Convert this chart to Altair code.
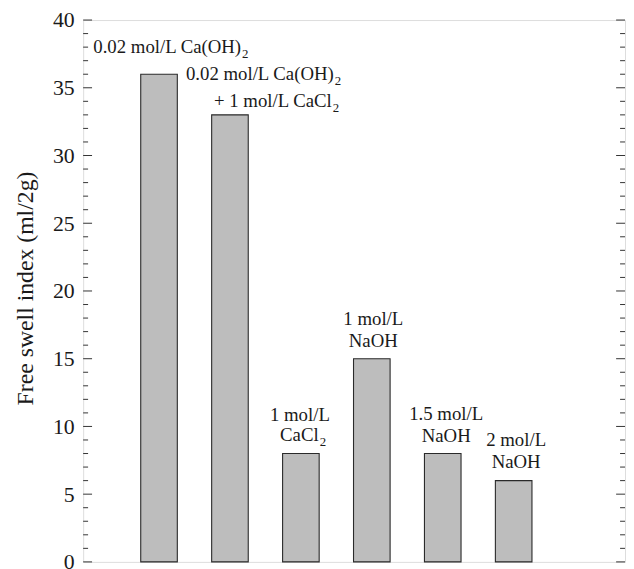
import altair as alt
import pandas as pd

# ---- data ----
bar_pos = [1, 2, 3, 4, 5, 6]
bar_name = ["0.02 mol/L Ca(OH)2", "0.02 mol/L Ca(OH)2 + 1 mol/L CaCl2", "1 mol/L CaCl2",
            "1 mol/L NaOH", "1.5 mol/L NaOH", "2 mol/L NaOH"]
swell = [36, 33, 8, 15, 8, 6]

major_ticks = [0, 5, 10, 15, 20, 25, 30, 35, 40]
minor_ticks = [1, 2, 3, 4, 6, 7, 8, 9, 11, 12, 13, 14, 16, 17, 18, 19,
               21, 22, 23, 24, 26, 27, 28, 29, 31, 32, 33, 34, 36, 37, 38, 39]

# label lines: text, bar index, subscript
label_text = ["0.02 mol/L Ca(OH)", "0.02 mol/L Ca(OH)", "+ 1 mol/L CaCl", "1 mol/L", "CaCl",
              "1 mol/L", "NaOH", "1.5 mol/L", "NaOH", "2 mol/L", "NaOH"]
label_bar = [1, 2, 2, 3, 3, 4, 4, 5, 5, 6, 6]
label_sub = ["2", "2", "2", "", "2", "", "", "", "", "", ""]
# layout (pixels): dx from bar centre, dy from bar top, alignment
label_dx = [83, 105, 103, -1, 18, 1.5, 1.5, 3.5, 3.5, 2.5, 2.5]
label_dy = [-21, -35, -7.5, -33, -12.5, -34, -12, -34, -11.5, -35, -13]
label_align = ["right", "right", "right", "center", "right", "center", "center",
               "center", "center", "center", "center"]

FONT = "Liberation Serif"
TXT = "#1a1a1a"
W, H = 548, 548

df = pd.DataFrame({"pos": bar_pos, "name": bar_name, "swell": swell})
xs = alt.Scale(domain=[0, 7.5], nice=False, zero=False)
ys = alt.Scale(domain=[0, 40], nice=False, zero=True)

bars = alt.Chart(df).mark_bar(
    size=37, color="#bdbdbd", stroke="#2a2a2a", strokeWidth=1.1
).encode(
    x=alt.X("pos:Q", scale=xs, axis=None),
    y=alt.Y("swell:Q", scale=ys,
            axis=alt.Axis(values=major_ticks, domain=False, ticks=False, grid=False,
                          labelFont=FONT, labelFontSize=22, labelColor=TXT, labelPadding=9,
                          title="Free swell index (ml/2g)", titleFont=FONT, titleFontSize=24,
                          titleFontWeight="normal", titleColor=TXT, titleAngle=-90,
                          titleX=-51, titleY=271, titleAlign="center",
                          titleBaseline="alphabetic")),
)

maj = pd.DataFrame({"v": major_ticks})
mino = pd.DataFrame({"v": minor_ticks})
tick_layers = []
for d, ln in [(maj, 9), (mino, 5)]:
    tick_layers.append(alt.Chart(d).mark_rule(color="#333", strokeWidth=1).encode(
        y=alt.Y("v:Q", scale=ys), x=alt.value(0), x2=alt.value(ln)))
    tick_layers.append(alt.Chart(d).mark_rule(color="#333", strokeWidth=1).encode(
        y=alt.Y("v:Q", scale=ys), x=alt.value(W), x2=alt.value(W - ln)))

text_layers = []
for i, t in enumerate(label_text):
    b = label_bar[i]
    row = pd.DataFrame({"pos": [b], "swell": [swell[b - 1]], "t": [t], "s": [label_sub[i]]})
    text_layers.append(alt.Chart(row).mark_text(
        font=FONT, fontSize=19, color=TXT, align=label_align[i], baseline="alphabetic",
        dx=label_dx[i], dy=label_dy[i]
    ).encode(x=alt.X("pos:Q", scale=xs), y=alt.Y("swell:Q", scale=ys), text="t:N"))
    if label_sub[i]:
        text_layers.append(alt.Chart(row).mark_text(
            font=FONT, fontSize=13, color=TXT, align="left", baseline="alphabetic",
            dx=label_dx[i] + 1, dy=label_dy[i] + 5
        ).encode(x=alt.X("pos:Q", scale=xs), y=alt.Y("swell:Q", scale=ys), text="s:N"))

chart = alt.layer(bars, *tick_layers, *text_layers).properties(
    width=W, height=H,
    autosize=alt.AutoSizeParams(type="none"),
    padding={"left": 76, "top": 9, "right": 1, "bottom": 4},
).configure_view(stroke="#222", strokeWidth=1.2).configure(background="white")

chart.save("out.html", embed_options={"renderer": "svg", "actions": False})
